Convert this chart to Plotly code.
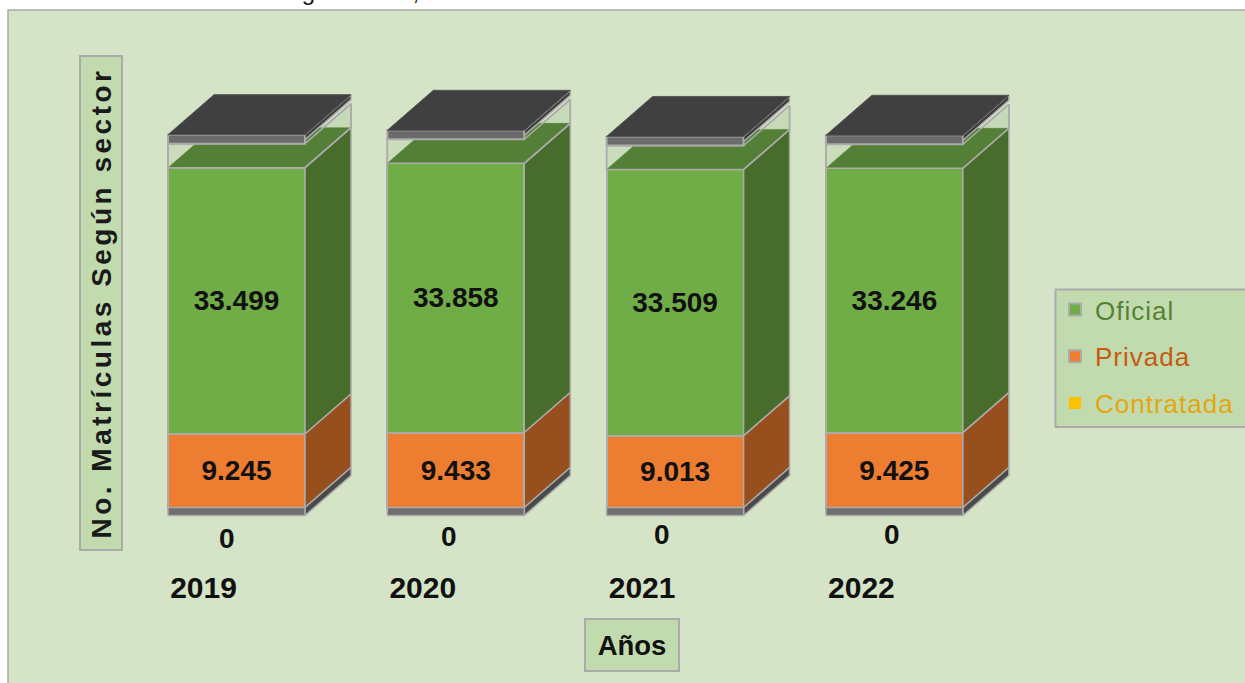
import plotly.graph_objects as go

# ---- data ----
years = [2019, 2020, 2021, 2022]
oficial = [33499, 33858, 33509, 33246]
privada = [9245, 9433, 9013, 9425]
contratada = [0, 0, 0, 0]
series_names = ["Oficial", "Privada", "Contratada"]

# ---- layout constants ----
W, H = 1245, 683
PX_PER_UNIT = 0.00795     # vertical scale
PX_PER_YEAR = 219.3       # horizontal scale
BASE_PX, FIRST_PX, AXIS_PX = 507.5, 236.5, 567
BAR = 137 / PX_PER_YEAR
DX = 46 / PX_PER_YEAR
u = lambda px: px / PX_PER_UNIT
DY = u(40)
GAP, LID_TOP, LID_FRONT, LID_SIDE, FLOOR = u(24), u(33), u(9), u(5), u(8)
SANS = "Liberation Sans, Arial, sans-serif"
PANEL, BOX, EDGE = "#D5E4C7", "#C2DBAE", "#ABABAB"
px = lambda v: v / W
py = lambda v: 1 - v / H
ZERO_NUDGE = [(-10, -31), (-7, -29), (-13, -27), (-2, -27)]


def polys(fn):
    xs, ys = [], []
    for i, year in enumerate(years):
        L, R = year - BAR / 2, year + BAR / 2
        o, g = privada[i] + contratada[i], privada[i] + contratada[i] + oficial[i]
        pts = fn(L, R, o, g)
        xs += [p[0] for p in pts] + [pts[0][0], None]
        ys += [p[1] for p in pts] + [pts[0][1], None]
    return xs, ys


def face(fn, fill, line=EDGE, width=1.5):
    xs, ys = polys(fn)
    return go.Scatter(x=xs, y=ys, mode="lines", fill="toself" if fill else "none",
                      fillcolor=fill, line=dict(color=line, width=width),
                      hoverinfo="skip", showlegend=False)


fig = go.Figure()

# front faces, real stacked bars
label_font = dict(family=SANS, size=28, color="#111111", weight="bold")
legend_colors = ["#548235", "#C55A11", "#E2A70F"]
for rank, name, vals, col, lc, lw, show_text in [
    (3, series_names[2], contratada, "#FFC000", legend_colors[2], 0, False),
    (2, series_names[1], privada, "#ED7D31", legend_colors[1], 2, True),
    (1, series_names[0], oficial, "#70AD47", legend_colors[0], 2, True),
]:
    fig.add_trace(go.Bar(
        x=years, y=vals, width=BAR, legendgroup=name, legendrank=rank,
        name=f'<span style="color:{lc};letter-spacing:1px">{name}</span>',
        marker=dict(color=col, line=dict(color=EDGE, width=lw)),
        texttemplate="%{y:,.0f}" if show_text else None,
        textposition="inside" if show_text else "none",
        insidetextanchor="middle", textangle=0,
        textfont=label_font, hoverinfo="skip",
    ))

# glass above the stack
fig.add_trace(face(lambda L, R, o, g: [(R, g), (R + DX, g + DY), (R + DX, g + DY + GAP), (R, g + GAP)], "#C6DAB8"))
fig.add_trace(face(lambda L, R, o, g: [(L, g), (R, g), (R, g + GAP), (L, g + GAP)], "#CADCBC"))
# top of the green block
fig.add_trace(face(lambda L, R, o, g: [(L, g), (R, g), (R + DX, g + DY), (L + DX, g + DY)], "#537F36", line="#537F36", width=0.5))
# side faces
fig.add_trace(face(lambda L, R, o, g: [(R, o), (R + DX, o + DY), (R + DX, g + DY), (R, g)], "#476C2B"))
fig.add_trace(face(lambda L, R, o, g: [(R, 0), (R + DX, DY), (R + DX, o + DY), (R, o)], "#97501D"))
# floor
fig.add_trace(face(lambda L, R, o, g: [(R, -FLOOR), (R + DX, DY - FLOOR), (R + DX, DY), (R, 0)], "#4A4A4A"))
fig.add_trace(face(lambda L, R, o, g: [(L, -FLOOR), (R, -FLOOR), (R, 0), (L, 0)], "#6F6F6F"))
# glass edges
fig.add_trace(face(lambda L, R, o, g: [(L, g), (R, g), (R + DX, g + DY), (R + DX, g + DY + GAP), (R, g + GAP), (L, g + GAP)], None))
# lid
fig.add_trace(face(lambda L, R, o, g: [(L, g + LID_TOP - LID_FRONT), (R, g + LID_TOP - LID_FRONT), (R, g + LID_TOP), (L, g + LID_TOP)], "#6B6B6B", width=2))
fig.add_trace(face(lambda L, R, o, g: [(R, g + LID_TOP - LID_SIDE), (R + DX, g + LID_TOP + DY - LID_SIDE), (R + DX, g + LID_TOP + DY), (R, g + LID_TOP)], "#3C3C3C"))
fig.add_trace(face(lambda L, R, o, g: [(L, g + LID_TOP), (R, g + LID_TOP), (R + DX, g + LID_TOP + DY), (L + DX, g + LID_TOP + DY)], "#404040", line="#555555", width=1))

annotations = [
    # clipped title line at the very top of the picture
    dict(text="Matrículas según sector,", xref="paper", yref="paper", x=px(421), y=py(7),
         xanchor="right", yanchor="bottom", showarrow=False,
         font=dict(family=SANS, size=24, color="#111111")),
    dict(text='<span style="letter-spacing:3.5px"><b>No. Matrículas Según sector</b></span>',
         xref="paper", yref="paper", x=px(100.5), y=py(303.5), xanchor="center", yanchor="middle",
         textangle=-90, showarrow=False, width=490, height=38, bgcolor=BOX, bordercolor=EDGE, borderwidth=2,
         font=dict(family=SANS, size=28, color="#1A1A1A")),
    dict(text="<b>Años</b>", xref="paper", yref="paper", x=px(632), y=py(645),
         xanchor="center", yanchor="middle", showarrow=False, width=90, height=48,
         bgcolor=BOX, bordercolor=EDGE, borderwidth=2,
         font=dict(family=SANS, size=27.5, color="#111111")),
]
for year, v, (nx, ny) in zip(years, contratada, ZERO_NUDGE):
    annotations.append(dict(text=str(v), x=year, y=0, xref="x", yref="y", showarrow=False,
                            xshift=nx, yshift=ny, font=label_font))

fig.update_layout(
    width=W, height=H, margin=dict(l=0, r=0, t=0, b=0, autoexpand=False), autosize=False,
    paper_bgcolor="white", plot_bgcolor="rgba(0,0,0,0)",
    barmode="stack", separators=",.", hovermode=False,
    xaxis=dict(range=[years[0] - FIRST_PX / PX_PER_YEAR, years[0] + (W - FIRST_PX) / PX_PER_YEAR],
               tickvals=[y - 33 / PX_PER_YEAR for y in years], ticktext=[str(y) for y in years],
               showgrid=False, zeroline=False, showline=False, ticks="", domain=[0, 1],
               automargin=False,
               tickfont=dict(family=SANS, size=30, color="#111111", weight="bold")),
    yaxis=dict(range=[u(BASE_PX - AXIS_PX), u(BASE_PX)], domain=[1 - AXIS_PX / H, 1],
               visible=False, showgrid=False, zeroline=False),
    legend=dict(x=px(1055), y=py(286), xanchor="left", yanchor="top",
                bgcolor="rgba(0,0,0,0)", borderwidth=0,
                traceorder="grouped", tracegroupgap=10,
                font=dict(family=SANS, size=26)),
    shapes=[dict(type="rect", xref="paper", yref="paper", x0=px(8), x1=1.01, y0=-0.01, y1=py(10),
                 fillcolor=PANEL, line=dict(color=EDGE, width=1.5), layer="below"),
            dict(type="rect", xref="paper", yref="paper", x0=px(1055.5), x1=1.01, y0=py(427), y1=py(289.5),
                 fillcolor=BOX, line=dict(color=EDGE, width=2), layer="below")],
    annotations=annotations,
)

fig.write_html("out.html", config=dict(displayModeBar=False),
               post_script="document.body.style.margin='0';")
